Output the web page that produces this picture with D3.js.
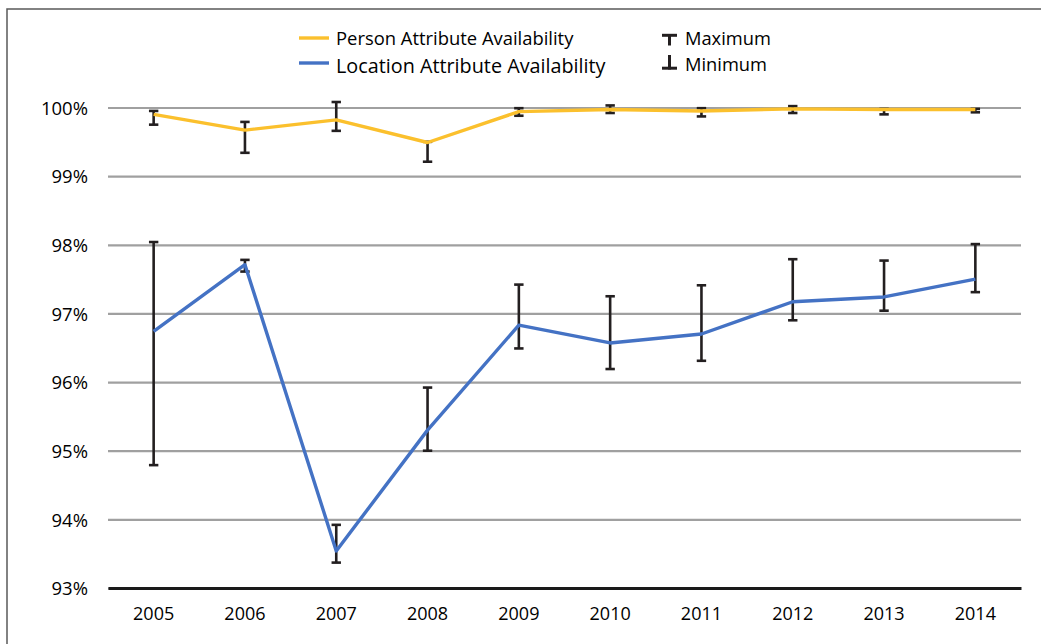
<!DOCTYPE html>
<html><head><meta charset="utf-8">
<script src="https://cdn.jsdelivr.net/npm/d3@7"></script>
<style>body{margin:0;background:#fff}svg{display:block}</style>
</head><body>
<svg id="chart" width="1041" height="644"></svg>
<script>
const years = ["2005","2006","2007","2008","2009","2010","2011","2012","2013","2014"];
const personValues = [99.90, 99.67, 99.82, 99.49, 99.94, 99.97, 99.95, 99.98, 99.97, 99.97];
const personMax    = [99.95, 99.79, 100.08, 99.50, 99.99, 100.03, 99.99, 100.02, 99.98, 99.98];
const personMin    = [99.75, 99.34, 99.66, 99.21, 99.88, 99.92, 99.87, 99.92, 99.90, 99.93];
const locationValues = [96.74, 97.71, 93.54, 95.30, 96.83, 96.57, 96.70, 97.17, 97.24, 97.50];
const locationMax    = [98.04, 97.78, 93.92, 95.92, 97.42, 97.25, 97.41, 97.79, 97.77, 98.01];
const locationMin    = [94.79, 97.61, 93.37, 95.00, 96.49, 96.19, 96.31, 96.90, 97.04, 97.31];
const yTicks = [93, 94, 95, 96, 97, 98, 99, 100];
const seriesNames = ["Person Attribute Availability", "Location Attribute Availability"];
const errNames = ["Maximum", "Minimum"];

const colors = {person: "#FBC02D", location: "#4472C4", err: "#231F20", grid: "#A0A0A0"};
const font = "'Open Sans', sans-serif";
const svg = d3.select("#chart");

// outer frame
svg.append("rect").attr("x", 7).attr("y", 9).attr("width", 1045).attr("height", 650)
  .attr("fill", "none").attr("stroke", "#595959").attr("stroke-width", 1.5);

const x = d3.scaleBand().domain(years).range([108, 1021]).padding(0);
const y = d3.scaleLinear().domain([93, 100]).range([588, 107.5]);
const cx = d => x(d) + x.bandwidth() / 2;

// gridlines
const yAxis = svg.append("g").attr("transform", "translate(108,0)")
  .call(d3.axisLeft(y).tickValues(yTicks).tickSize(-(1021 - 108)).tickPadding(20).tickFormat(d => d + "%"));
yAxis.select(".domain").remove();
yAxis.selectAll(".tick line").attr("stroke", colors.grid).attr("stroke-width", 2.2);
yAxis.selectAll(".tick text").attr("font-family", font).attr("font-size", 18.5).attr("fill", "#000").attr("dy", "0.36em");

// x axis
const xAxis = svg.append("g").attr("transform", "translate(0,588)")
  .call(d3.axisBottom(x).tickSize(0).tickPadding(19));
xAxis.select(".domain").attr("stroke", "#1a1a1a").attr("stroke-width", 3);
xAxis.selectAll(".tick text").attr("font-family", font).attr("font-size", 18).attr("fill", "#000");

// error bars
function errorBars(maxArr, minArr) {
  const g = svg.append("g").attr("stroke", colors.err).attr("stroke-width", 2.6).attr("fill", "none");
  years.forEach((yr, i) => {
    const px = cx(yr);
    g.append("line").attr("x1", px).attr("x2", px).attr("y1", y(maxArr[i])).attr("y2", y(minArr[i]));
    g.append("line").attr("x1", px - 4.7).attr("x2", px + 4.7).attr("y1", y(maxArr[i])).attr("y2", y(maxArr[i]));
    g.append("line").attr("x1", px - 4.7).attr("x2", px + 4.7).attr("y1", y(minArr[i])).attr("y2", y(minArr[i]));
  });
}
errorBars(personMax, personMin);
errorBars(locationMax, locationMin);

// lines
const line = d3.line().x((d, i) => cx(years[i])).y(d => y(d));
svg.append("path").datum(personValues).attr("d", line).attr("fill", "none")
  .attr("stroke", colors.person).attr("stroke-width", 3.4).attr("stroke-linejoin", "round");
svg.append("path").datum(locationValues).attr("d", line).attr("fill", "none")
  .attr("stroke", colors.location).attr("stroke-width", 3.4).attr("stroke-linejoin", "round");

// legend
const leg = svg.append("g");
leg.append("line").attr("x1", 299).attr("x2", 329).attr("y1", 38).attr("y2", 38).attr("stroke", colors.person).attr("stroke-width", 3.4);
leg.append("line").attr("x1", 299).attr("x2", 329).attr("y1", 63).attr("y2", 63).attr("stroke", colors.location).attr("stroke-width", 3.4);
leg.append("text").attr("x", 336).attr("y", 45).text(seriesNames[0]).attr("font-family", font).attr("font-size", 18.4).attr("fill", "#000");
leg.append("text").attr("x", 336).attr("y", 73).text(seriesNames[1]).attr("font-family", font).attr("font-size", 19.8).attr("fill", "#000");

// error legend symbols
const eg = leg.append("g").attr("stroke", colors.err).attr("stroke-width", 3);
eg.append("line").attr("x1", 669.5).attr("x2", 669.5).attr("y1", 34).attr("y2", 45.5);
eg.append("line").attr("x1", 662).attr("x2", 677).attr("y1", 35.3).attr("y2", 35.3);
eg.append("line").attr("x1", 669.5).attr("x2", 669.5).attr("y1", 55).attr("y2", 69.5);
eg.append("line").attr("x1", 662).attr("x2", 677).attr("y1", 68.2).attr("y2", 68.2);
leg.append("text").attr("x", 685).attr("y", 45).text(errNames[0]).attr("font-family", font).attr("font-size", 18.3).attr("fill", "#000");
leg.append("text").attr("x", 685).attr("y", 70.5).text(errNames[1]).attr("font-family", font).attr("font-size", 18.3).attr("fill", "#000");
</script>
</body></html>
